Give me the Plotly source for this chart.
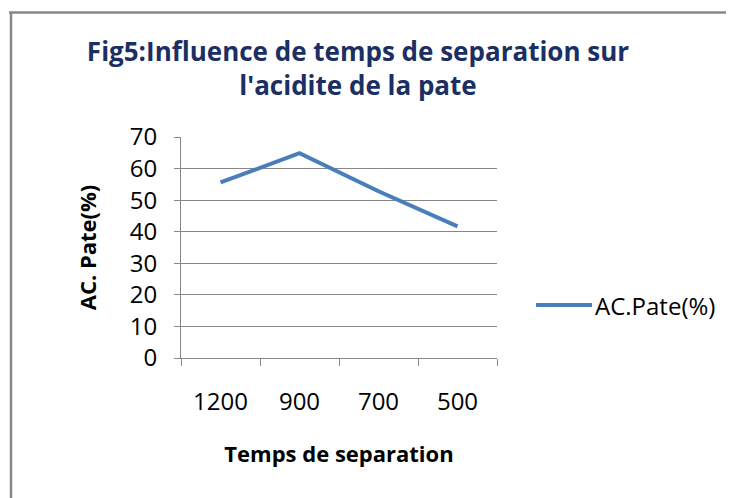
import plotly.graph_objects as go

categories = ["1200", "900", "700", "500"]
ac_pate = [55.6, 64.9, 52.8, 41.7]
y_ticks = [0, 10, 20, 30, 40, 50, 60, 70]
series_name = "AC.Pate(%)"
line_color = "#4A7EBB"

OFF = 8  # default page body margin
W, H = 734 - OFF, 498 - OFF
# plot area in page pixels: x 181..497, y 137..358
L = 181 - OFF
T = 137 - OFF
pw, ph = 316, 221
R = W - L - pw
B = H - T - ph

def px(x):
    return (x - OFF - L) / pw

def py(y):
    return (T + ph - (y - OFF)) / ph

fig = go.Figure()
fig.add_trace(go.Scatter(
    x=categories, y=ac_pate, mode="lines", name=series_name,
    line=dict(color=line_color, width=4), showlegend=False,
))

font_fam = "Open Sans"
fig.update_layout(
    width=W, height=H,
    margin=dict(l=L, r=R, t=T, b=B),
    paper_bgcolor="white", plot_bgcolor="white",
    font=dict(family=font_fam, color="#000000"),
    title=dict(
        text="<b>Fig5:Influence de temps de separation sur<br>l'acidite de la pate</b>",
        x=px(358), xref="paper", xanchor="center",
        y=1 - (61 - OFF) / H, yanchor="middle",
        font=dict(family=font_fam, size=26, color="#1B2F63"),
    ),
    showlegend=False,
    xaxis=dict(
        type="category", range=[-0.5, 3.5],
        showline=True, linecolor="#888888", linewidth=1,
        ticks="outside", tickson="boundaries", ticklen=7, tickcolor="#888888",
        showgrid=False, zeroline=False,
        tickfont=dict(size=24, color="#000000"),
        ticklabelstandoff=22,
        title=dict(text="<b>Temps de separation</b>", font=dict(size=22, color="#000000"), standoff=30),
    ),
    yaxis=dict(
        range=[0, 70], tickvals=y_ticks,
        showline=True, linecolor="#888888", linewidth=1,
        ticks="outside", ticklen=6, tickcolor="#888888",
        showgrid=True, gridcolor="#888888", gridwidth=1,
        zeroline=False,
        tickfont=dict(size=24, color="#000000"),
        ticklabelstandoff=12,
        title=dict(text="<b>AC. Pate(%)</b>", font=dict(size=22, color="#000000"), standoff=27),
    ),
)

# legend (line sample + label)
fig.add_shape(type="line", xref="paper", yref="paper",
              x0=px(536), x1=px(592), y0=py(305), y1=py(305),
              line=dict(color=line_color, width=4))
fig.add_annotation(xref="paper", yref="paper", x=px(593), y=py(305),
                   xanchor="left", yanchor="middle", showarrow=False,
                   text=series_name, font=dict(family=font_fam, size=24, color="#000000"))

# chart frame (top and left edges visible)
fig.add_shape(type="line", xref="paper", yref="paper",
              x0=px(9), x1=px(740), y0=py(12.5), y1=py(12.5),
              line=dict(color="#888888", width=2.5))
fig.add_shape(type="line", xref="paper", yref="paper",
              x0=px(11), x1=px(11), y0=py(12.5), y1=py(505),
              line=dict(color="#888888", width=2.5))

fig.write_html("out.html")
